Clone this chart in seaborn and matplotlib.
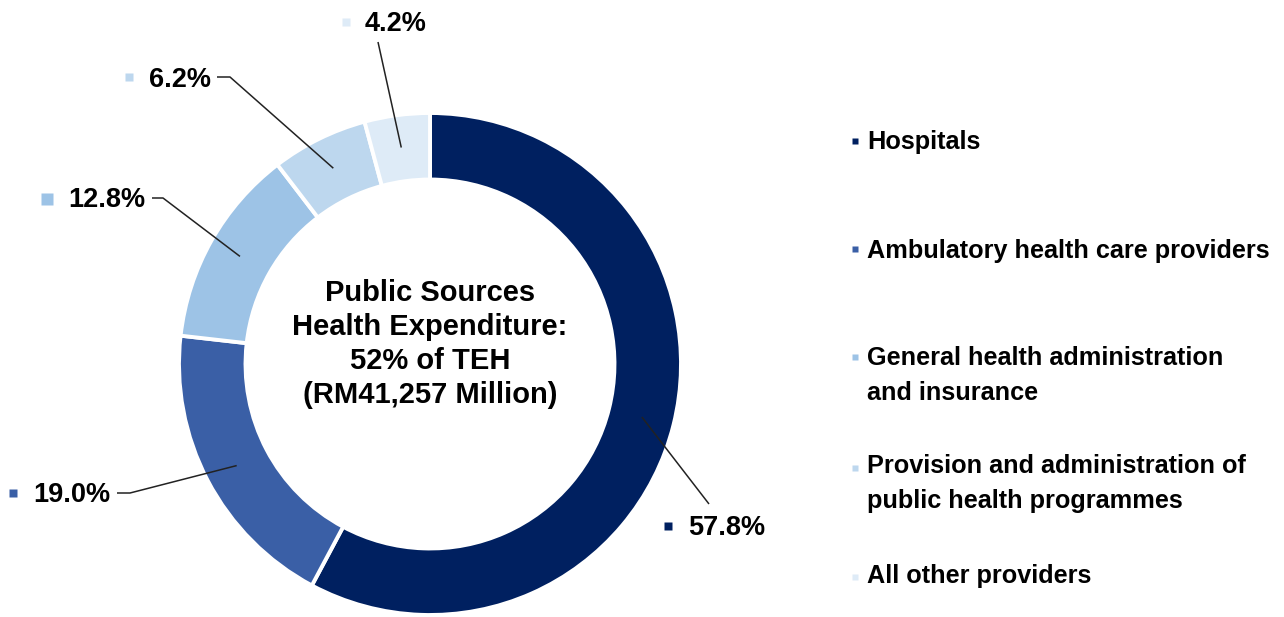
import numpy as np
import matplotlib
matplotlib.use("Agg")
import matplotlib.pyplot as plt
import seaborn as sns

# ---- data ----
categories = ["Hospitals", "Ambulatory health care providers",
              "General health administration\nand insurance",
              "Provision and administration of\npublic health programmes",
              "All other providers"]
shares = [57.8, 19.0, 12.8, 6.2, 4.2]
pct_labels = ["57.8%", "19.0%", "12.8%", "6.2%", "4.2%"]
colors = ["#002060", "#3A5FA6", "#9DC3E6", "#BDD7EE", "#DEEBF7"]
center_text = "Public Sources\nHealth Expenditure:\n52% of TEH\n(RM41,257 Million)"

sns.set_theme(style="white")
plt.rcParams['font.family'] = ['Liberation Sans', 'DejaVu Sans']

W, H = 1284, 617
fig = plt.figure(figsize=(W / 100, H / 100), dpi=100)
ax = fig.add_axes([0, 0, 1, 1])

# pixel layout: donut centre and radius
cx, cy, R = 430, 364, 251
def px(x, y):
    return ((x - cx) / R, (cy - y) / R)

wedges, _ = ax.pie(shares, colors=colors, startangle=90, counterclock=False,
                   radius=1.0, wedgeprops=dict(width=0.265, edgecolor='white', linewidth=2.8))

ax.set_aspect('auto')
ax.set_xlim(-cx / R, (W - cx) / R)
ax.set_ylim((cy - H) / R, cy / R)
ax.axis('off')

ax.text(0, px(0, 344)[1], center_text, ha='center', va='center', fontsize=21,
        fontweight='bold', color='black', linespacing=1.26)

# label layout (pixels): square pos, square size, text-left, baseline y, elbow, end of horizontal
label_layout = [
    dict(sq=(668, 526), ms=5.5, tx=688, ty=535, elbow=(709, 504), hend=None),
    dict(sq=(13, 493), ms=6, tx=33, ty=502, elbow=(130, 493), hend=(117, 493)),
    dict(sq=(47, 199), ms=9, tx=68, ty=207, elbow=(163, 198), hend=(152, 198)),
    dict(sq=(129, 77), ms=6, tx=149, ty=87, elbow=(230, 77), hend=(217, 77)),
    dict(sq=(346, 22), ms=5.5, tx=365, ty=31, elbow=(378, 42), hend=None),
]

cum = np.cumsum([0] + shares)
total = sum(shares)
for i, lay in enumerate(label_layout):
    mid = np.deg2rad(90 - (cum[i] + shares[i] / 2) / total * 360)
    r0 = 0.87
    sx, sy = r0 * np.cos(mid), r0 * np.sin(mid)
    ex, ey = px(*lay['elbow'])
    xs, ys = [sx, ex], [sy, ey]
    if lay['hend'] is not None:
        hx, hy = px(*lay['hend'])
        xs.append(hx); ys.append(hy)
    ax.plot(xs, ys, color='#222222', lw=1.1, solid_capstyle='butt', zorder=5)
    qx, qy = px(*lay['sq'])
    ax.plot([qx], [qy], marker='s', ms=lay['ms'], color=colors[i], mec='none', zorder=5)
    tx, ty = px(lay['tx'], lay['ty'])
    ax.text(tx, ty, pct_labels[i], ha='left', va='baseline', fontsize=19.5,
            fontweight='bold', color='black')

# legend layout (pixels): square centre y and last-line baseline y of each entry
legend_sq_y = [141, 249, 357, 468, 577]
legend_base_y = [149, 258, 400, 508, 583]
for i, cat in enumerate(categories):
    x, y = px(855, legend_sq_y[i])
    ax.plot([x], [y], marker='s', ms=5, color=colors[i], mec='none')
    tx, ty = px(867, legend_base_y[i])
    ax.text(tx, ty, cat, ha='left', va='baseline', fontsize=18.2, fontweight='bold',
            color='black', linespacing=1.58)

fig.savefig("out.png", dpi=100, facecolor='white')
